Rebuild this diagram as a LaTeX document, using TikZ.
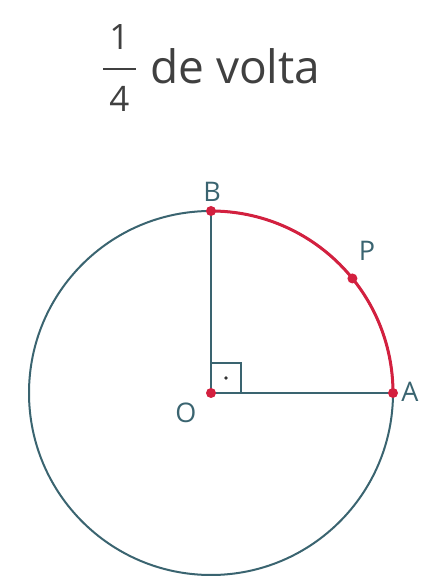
\documentclass[tikz,border=0pt]{standalone}
\usepackage{fontspec}
\setmainfont{Open Sans}
\usepackage{tikz}
\usetikzlibrary{positioning,calc}
\definecolor{lineblue}{HTML}{3A6470}
\definecolor{arcred}{HTML}{D3203F}

\begin{document}
\begin{tikzpicture}[
  x=1pt, y=1pt,
  lbl/.style={text=lineblue, inner sep=0pt, font=\fontsize{27}{30}\selectfont},
  dot/.style={circle, fill=arcred, inner sep=0pt, minimum size=10pt},
  ln/.style={draw=lineblue, line width=2pt}
]
\useasboundingbox (0,0) rectangle (426,576);
% title
\node[anchor=base west, inner sep=0pt, text=black!75, font=\fontsize{46}{50}\selectfont] (txt) at (150,492) {de volta};
\node[anchor=base, inner sep=0pt, text=black!75, font=\fontsize{35}{40}\selectfont] (num) at (119.5,526) {1};
\node[anchor=base, inner sep=0pt, text=black!75, font=\fontsize{35}{40}\selectfont] (den) at (119.5,464) {4};
\coordinate (barl) at (103,507);
\coordinate (barr) at (136,507);
\draw[black!75, line width=2.5pt] (barl) -- (barr);
% circle
\coordinate (O) at (211,183);
\coordinate (A) at (393,183);
\coordinate (B) at (211,365);
\coordinate (P) at ($(O)+(39:182)$);
\draw[ln] (O) circle[radius=182];
\draw[ln] (O) -- (A);
\draw[ln] (O) -- (B);
\draw[ln, line width=1.8pt] ($(O)+(0,30)$) -| ($(O)+(30,0)$);
\fill[black!80] ($(O)+(15,15)$) circle[radius=1.8];
\draw[arcred, line width=3pt] (A) arc[start angle=0, end angle=90, radius=182];
\node[dot] (dO) at (O) {};
\node[dot] (dA) at (A) {};
\node[dot] (dB) at (B) {};
\node[dot] (dP) at (P) {};
\node[lbl] (lO) at (186,163) {O};
\node[lbl] (lA) at (410,184) {A};
\node[lbl] (lB) at (212,384) {B};
\node[lbl] (lP) at (367,325) {P};
\end{tikzpicture}
\end{document}
